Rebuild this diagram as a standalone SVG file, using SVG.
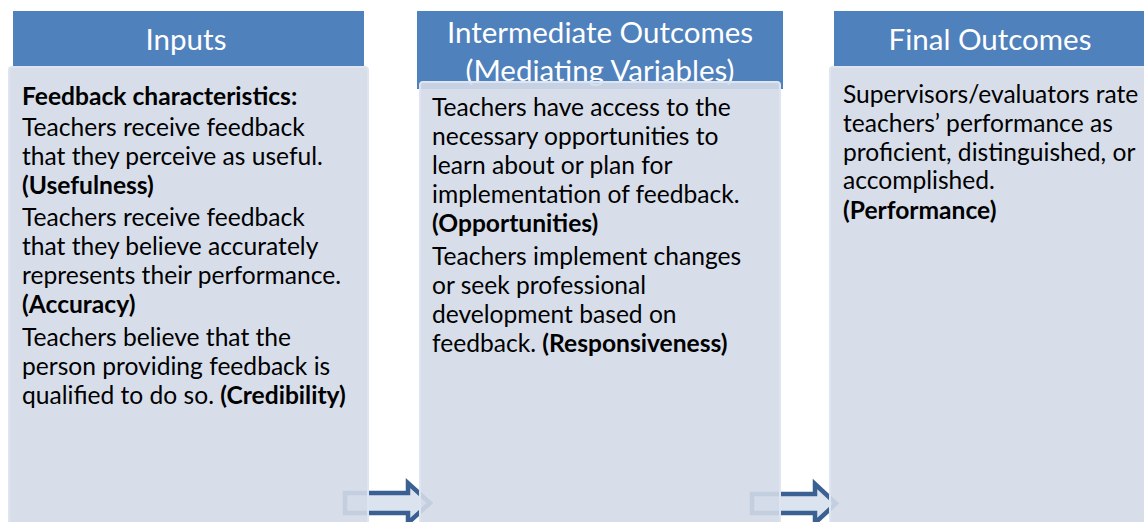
<svg xmlns="http://www.w3.org/2000/svg" width="1144" height="522" viewBox="0 0 1144 522">
<style>
.hdr{fill:#4f81bd}
.body{fill:#d3dae8;fill-opacity:0.9;stroke:#dfe5f0;stroke-width:2}
.ht{font-family:Lato,"Liberation Sans",sans-serif;font-size:29.5px;fill:#ffffff;text-anchor:middle}
.t{font-family:Lato,"Liberation Sans",sans-serif;font-size:24.6px;fill:#000000}
.b{font-weight:bold}
.arr{fill:#dbe3ef;stroke:#3b6192;stroke-width:4.5;stroke-linejoin:miter}
</style>
<g id="connectors">
<path class="arr" d="M345,493 L408,493 L408,483 L430,503 L408,523 L408,513 L345,513 Z"/>
<path class="arr" d="M752,494 L815,494 L815,484 L836,503.5 L815,523 L815,513 L752,513 Z"/>
</g>
<g id="inputs">
<rect class="hdr" x="13" y="11" width="351" height="56"/>
<text class="ht" x="186" y="50">Inputs</text>
<rect class="body" x="9" y="67" width="359" height="470" rx="3"/>
<text class="t b" x="22" y="105">Feedback characteristics:</text>
<text class="t" x="22" y="136">Teachers receive feedback</text>
<text class="t" x="22" y="165">that they perceive as useful.</text>
<text class="t b" x="22" y="194">(Usefulness)</text>
<text class="t" x="22" y="226">Teachers receive feedback</text>
<text class="t" x="22" y="255">that they believe accurately</text>
<text class="t" x="22" y="284">represents their performance.</text>
<text class="t b" x="22" y="313">(Accuracy)</text>
<text class="t" x="22" y="346">Teachers believe that the</text>
<text class="t" x="22" y="375">person providing feedback is</text>
<text class="t" x="22" y="404">qualified to do so. <tspan class="b">(Credibility)</tspan></text>
</g>
<g id="intermediate">
<rect class="hdr" x="417" y="11" width="366" height="78"/>
<text class="ht" x="600" y="43">Intermediate Outcomes</text>
<text class="ht" x="600" y="81">(Mediating Variables)</text>
<rect class="body" x="420" y="82" width="360" height="460" rx="3"/>
<text class="t" x="432" y="116">Teachers have access to the</text>
<text class="t" x="432" y="145">necessary opportunities to</text>
<text class="t" x="432" y="174">learn about or plan for</text>
<text class="t" x="432" y="203">implementation of feedback.</text>
<text class="t b" x="432" y="232">(Opportunities)</text>
<text class="t" x="432" y="265">Teachers implement changes</text>
<text class="t" x="432" y="294">or seek professional</text>
<text class="t" x="432" y="323">development based on</text>
<text class="t" x="432" y="352">feedback. <tspan class="b">(Responsiveness)</tspan></text>
</g>
<g id="final">
<rect class="hdr" x="834" y="11" width="320" height="56"/>
<text class="ht" x="990" y="50">Final Outcomes</text>
<rect class="body" x="830" y="67" width="330" height="470" rx="3"/>
<text class="t" x="843" y="103">Supervisors/evaluators rate</text>
<text class="t" x="843" y="132">teachers’ performance as</text>
<text class="t" x="843" y="161">proficient, distinguished, or</text>
<text class="t" x="843" y="189">accomplished.</text>
<text class="t b" x="843" y="219">(Performance)</text>
</g>
</svg>
